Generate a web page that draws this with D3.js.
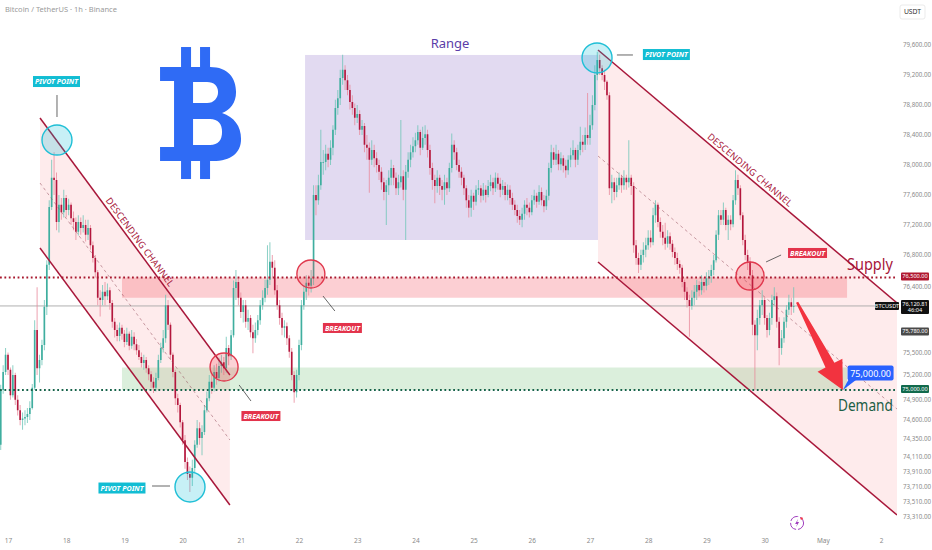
<!DOCTYPE html>
<html><head><meta charset="utf-8">
<script src="https://cdn.jsdelivr.net/npm/d3@7"></script>
<style>
html,body{margin:0;padding:0;background:#fff;}
svg{display:block;font-family:"Noto Sans",Roboto,sans-serif;}
</style></head><body>
<svg id="chart" width="932" height="550"></svg>
<script>
// ---------------- DATA (BTCUSDT, 1h, Binance) ----------------
const firstCandleTime = Date.UTC(2025, 3, 16, 21); // Apr 16 21:00
const firstOpen = 74270;
const closes = [
75000,75240,75470,75270,74930,75200,74870,74730,74600,74620,74640,74680,
74760,75030,75800,75290,75400,75600,76110,76670,77440,77830,77800,77240,
77470,77370,77560,77400,77470,77290,77240,77110,77240,77160,77200,77070,
77160,76930,76760,76570,76230,76200,76310,76250,76330,76160,75910,75800,
75720,75830,75750,75640,75750,75590,75710,75610,75530,75440,75360,75400,
75290,75210,75110,75030,75160,75400,75560,75690,76130,75870,75470,75240,
74890,74800,74570,74330,74040,73880,73830,73960,74270,74490,74360,74440,
74730,74890,75110,75030,75240,75160,75320,75370,75290,75560,75450,75730,
76360,76440,76230,76040,76130,75910,75960,75770,75690,75800,75930,76130,
76230,76360,76470,76710,76630,76330,76130,75960,75830,75850,75690,75510,
75200,74970,75200,75600,76130,76310,76430,76390,76490,77600,77530,77730,
78040,78040,78150,78070,78230,78470,78760,78890,79160,79270,79130,79000,
78840,78760,78630,78680,78470,78520,78270,78230,78070,78200,78090,78000,
77910,77770,77640,77730,77830,77960,77830,77690,77770,77850,77670,77910,
78070,78170,78250,78330,78440,78230,78360,78410,78200,77960,77800,77720,
77830,77720,77670,77770,77690,77960,78270,78170,78000,77910,77830,77690,
77530,77430,77590,77510,77670,77690,77590,77670,77600,77720,77770,77690,
77830,77750,77670,77720,77600,77670,77560,77470,77400,77320,77270,77350,
77470,77430,77370,77530,77590,77510,77640,77530,77450,77590,77960,78170,
78070,78150,78010,78090,77990,77930,78070,78130,78200,78070,78200,78310,
78270,78400,78360,78530,78800,79200,79400,79290,79200,79110,78930,77690,
77770,77640,77730,77830,77730,77830,77770,77830,77720,76930,76760,76670,
76800,76870,76930,77030,76970,77330,77470,77240,77110,77030,76950,77050,
76950,76840,76760,76680,76630,76440,76310,76200,76120,76230,76310,76400,
76330,76440,76390,76490,76520,76600,76730,77070,77330,77270,77400,77200,
77270,77210,77530,77800,77690,77330,77000,76800,76710,76530,75870,75730,
75960,76130,76200,75960,75800,75960,76200,76250,75910,75560,75690,75910,
76070,76170,76110,76120.81
];
const highs = [
75070,75330,75560,75500,75300,75330,75230,74930,74800,74700,74730,74760,
74850,75080,75930,76370,75470,75670,76200,76730,77530,78070,78170,77900,
77600,77560,77670,77600,77550,77500,77380,77300,77330,77300,77330,77270,
77270,77200,76980,76800,76600,76330,76400,76440,76420,76370,76200,75960,
75870,75900,75870,75800,75830,75780,75800,75770,75680,75600,75500,75470,
75440,75330,75250,75170,75230,75470,75630,75800,76270,76200,75900,75500,
75270,74950,74830,74600,74400,74100,73980,74070,74330,74600,74570,74530,
74800,74980,75200,75200,75330,75350,75430,75470,75440,75710,75600,75800,
76460,76600,76500,76300,76200,76200,76070,76000,75870,75900,76000,76200,
76330,76470,76930,76970,76800,76730,76400,76200,76030,75930,75900,75730,
75560,75250,75270,75670,76200,76400,76530,76530,76600,77730,77730,77870,
78470,78200,78270,78230,78330,78530,78870,79000,79270,79470,79330,79200,
79070,78930,78820,78800,78730,78600,78560,78400,78300,78330,78270,78170,
78070,77970,77830,77800,77930,78070,78000,77900,77870,78600,77930,78000,
78170,78270,78370,78430,78530,78470,78510,78530,78470,78270,78030,77870,
77930,77870,77800,77870,77830,78030,78420,78330,78230,78070,77970,77870,
77730,77600,77670,77630,77730,77800,77730,77760,77730,77800,77870,77830,
77900,77890,77830,77800,77770,77740,77730,77630,77530,77470,77400,77430,
77530,77560,77500,77600,77670,77630,77730,77700,77600,77670,78030,78270,
78230,78270,78200,78170,78130,78070,78130,78230,78330,78230,78270,78510,
78400,78500,78960,78670,78930,79330,79510,79470,79330,79270,79130,78970,
77870,77830,77830,77900,77870,77930,77870,78330,77870,77770,77000,76830,
76870,76970,77030,77130,77130,77430,77530,77500,77300,77200,77230,77130,
77100,77000,76900,76830,76730,76670,76470,76370,76270,76330,76400,76470,
76450,76530,76500,76570,76600,76670,76800,77130,77400,77400,77500,77430,
77330,77330,77600,77930,77870,77730,77370,77070,76870,76770,76600,75930,
76070,76200,76330,76230,76000,76030,76270,76370,76300,75970,75800,75970,
76130,76270,76230,76370
];
const lows = [
74200,74950,75200,75200,74870,74900,74800,74660,74530,74470,74530,74560,
74600,74740,75000,75200,75100,75330,75530,76000,76600,77400,77600,77130,
77100,77270,77300,77300,77330,77200,77130,77000,77060,77070,77100,76980,
77000,76870,76700,76500,76130,75980,76130,76130,76200,76070,75830,75700,
75650,75650,75670,75570,75600,75530,75550,75530,75470,75400,75300,75270,
75230,75130,75030,74960,74980,75130,75360,75500,75630,75800,75400,75170,
74800,74700,74500,74270,73950,73800,73640,73720,73900,74230,74270,74130,
74400,74700,74850,74950,74980,75070,75110,75230,75200,75230,75330,75400,
75700,76200,76130,75960,75900,75830,75800,75700,75490,75630,75730,75870,
76070,76170,76270,76400,76500,76270,76070,75870,75730,75700,75600,75430,
75130,74830,74900,75130,75530,76070,76200,76260,76300,76400,77330,77470,
77670,77870,77930,77970,78000,78130,78400,78670,78800,79070,79000,78930,
78740,78670,78530,78560,78400,78400,78170,78070,77630,78000,77970,77900,
77800,77670,77530,77200,77600,77730,77730,77600,77600,77700,77530,77000,
77830,77970,78100,78170,78270,78130,78200,78270,78100,77870,77670,77490,
77630,77600,77530,77470,77600,77640,77900,78070,77930,77830,77730,77600,
77430,77300,77310,77400,77460,77600,77500,77530,77500,77570,77650,77600,
77640,77670,77570,77600,77530,77530,77470,77400,77330,77230,77200,77170,
77270,77330,77300,77330,77470,77430,77470,77460,77370,77400,77530,77900,
78000,78000,77930,77930,77900,77830,77870,77970,78070,77970,78000,78130,
78170,78200,78270,78270,78470,78730,79130,79200,79130,79000,78870,77600,
77490,77530,77570,77670,77630,77670,77670,77700,77600,76830,76670,76560,
76600,76700,76770,76870,76900,76930,77230,77170,77030,76930,76870,76900,
76870,76770,76670,76600,76550,76370,76200,76100,75710,76070,76130,76200,
76250,76270,76300,76330,76400,76430,76530,76700,77000,77200,77200,77130,
77000,77130,77170,77470,77600,77270,76930,76730,76600,76470,75730,75000,
75530,75870,76000,75870,75700,75730,75870,76130,75830,75330,75470,75630,
75830,76000,76000,76030
];
const priceTicks = [79600,79200,78800,78400,78000,77600,77200,76800,76400,75500,75200,74900,74600,74350,74110,73910,73710,73510,73310];
const dayTicks = [17,18,19,20,21,22,23,24,25,26,27,28,29,30,31,32]; // April days; 31 = May 1, 32 = May 2
const supplyLevel = 76500;
const supplyZone = [76500, 76230];
const demandZone = [75300, 75000];
const demandLevel = 75000;
const lastPrice = 76120.81;
const prevClose = 75780;
const targetPrice = 75000;
// annotations: [aprilDay, hour, price]
const leftChannel = {t0:[17,13.2], t1:[20,19.5], upper:[78627,75200], lower:[76893,73467]};
const rightChannel = {t0:[27,3.3], t1:[32,6.6], upper:[79533,76160], lower:[76707,73333]};
const rangeBox = {t0:[22,2.5], t1:[27,3.3], top:79467, bottom:77000};
const zoneSpan = {t0:[18,23], t1:[31,10]};
const pivotCircles = [[17,20.2,78333],[20,3.05,73707],[27,2.9,79427]];
const breakoutCircles = [[20,17.1,75307],[22,4.9,76547],[29,18,76520]];
const pivotLabels = [
  {c:[17,20,79113], a:[17,20.2,78933], b:[17,20.2,78640]},
  {c:[18,23,73693], a:[19,11.4,73720], b:[19,18.8,73720]},
  {c:[28,7.5,79473], a:[27,11.1,79467], b:[27,17.7,79467]}
];
const breakoutLabels = [
  {c:[21,8.3,74653], a:[20,23.3,75067], b:[21,4.2,74853]},
  {c:[22,17.9,75827], a:[22,9.9,76253], b:[22,14.8,76053]},
  {c:[30,17.7,76827], a:[30,0.6,76707], b:[30,6.8,76800]}
];

// ---------------- SCALES ----------------
const W = 932, H = 550, plotRight = 897, plotBottom = 532;
const x = d3.scaleUtc().domain([Date.UTC(2025,3,17), Date.UTC(2025,4,2)]).range([8, 881]);
const y = d3.scaleLinear().domain([80200, 73000]).range([0, 540]);
const T = (day, hour) => new Date(Date.UTC(2025, 3, day) + hour * 3600e3);
const at = (d, h, p) => [x(T(d, h)), y(p)];

const svg = d3.select('#chart');
svg.append('rect').attr('width', W).attr('height', H).attr('fill', '#fff');
svg.append('clipPath').attr('id', 'plotClip').append('rect')
  .attr('x', 0).attr('y', 0).attr('width', plotRight).attr('height', plotBottom);
const plot = svg.append('g').attr('clip-path', 'url(#plotClip)');

// text squeezed horizontally to a target width (real transform, so its box is true)
function fitText(parent, tx, ty, str, width, attrs) {
  const g = parent.append('g').attr('transform', `translate(${tx},${ty})`);
  const t = g.append('text').text(str);
  Object.entries(attrs).forEach(([k, v]) => t.attr(k, v));
  const natural = t.node().getComputedTextLength();
  const k = natural > 0 ? Math.min(1, width / natural) : 1;
  t.attr('transform', `scale(${k},1)`);
  return t;
}

// ---------------- CHANNELS / BOXES ----------------
function channel(ch) {
  const [x0, x1] = [x(T(...ch.t0)), x(T(...ch.t1))];
  const u0 = y(ch.upper[0]), u1 = y(ch.upper[1]), l0 = y(ch.lower[0]), l1 = y(ch.lower[1]);
  plot.append('path').attr('d', `M${x0},${u0}L${x1},${u1}L${x1},${l1}L${x0},${l0}Z`)
    .attr('fill', 'rgba(242,54,69,0.10)');
  return {x0, x1, u0, u1, l0, l1};
}
const LC = channel(leftChannel), RC = channel(rightChannel);

const rb = {x0: x(T(...rangeBox.t0)), x1: x(T(...rangeBox.t1)), y0: y(rangeBox.top), y1: y(rangeBox.bottom)};
plot.append('rect').attr('x', rb.x0).attr('y', rb.y0).attr('width', rb.x1 - rb.x0).attr('height', rb.y1 - rb.y0)
  .attr('fill', 'rgba(103,58,183,0.19)');

const zx0 = x(T(...zoneSpan.t0)), zx1 = x(T(...zoneSpan.t1));
plot.append('rect').attr('x', zx0).attr('y', y(supplyZone[0])).attr('width', zx1 - zx0)
  .attr('height', y(supplyZone[1]) - y(supplyZone[0])).attr('fill', 'rgba(242,54,69,0.24)');
plot.append('rect').attr('x', zx0).attr('y', y(demandZone[0])).attr('width', zx1 - zx0)
  .attr('height', y(demandZone[1]) - y(demandZone[0])).attr('fill', 'rgba(76,175,80,0.20)');

// current price line
plot.append('line').attr('x1', 0).attr('x2', plotRight).attr('y1', y(lastPrice)).attr('y2', y(lastPrice))
  .attr('stroke', '#a8a8a8').attr('stroke-width', 0.9);

// ---------------- CANDLES ----------------
const candles = closes.map((c, i) => ({
  t: new Date(firstCandleTime + i * 3600e3),
  o: i ? closes[i - 1] : firstOpen, c, h: highs[i], l: lows[i]
}));
const bw = (x(new Date(firstCandleTime + 3600e3)) - x(new Date(firstCandleTime))) * 0.68;
const cg = plot.append('g');
cg.selectAll('line').data(candles).join('line')
  .attr('x1', d => x(d.t)).attr('x2', d => x(d.t))
  .attr('y1', d => y(Math.max(d.h, d.o, d.c))).attr('y2', d => y(Math.min(d.l, d.o, d.c)))
  .attr('stroke', d => d.c >= d.o ? '#6fc5b8' : '#e98a9c').attr('stroke-width', 0.8);
cg.selectAll('rect').data(candles).join('rect')
  .attr('x', d => x(d.t) - bw / 2).attr('width', bw)
  .attr('y', d => y(Math.max(d.o, d.c)))
  .attr('height', d => Math.max(0.8, Math.abs(y(d.o) - y(d.c))))
  .attr('fill', d => d.c >= d.o ? '#3fae9f' : '#b3173d');

// channel lines
function channelLines(c) {
  const red = '#a8173a';
  plot.append('line').attr('x1', c.x0).attr('y1', c.u0).attr('x2', c.x1).attr('y2', c.u1).attr('stroke', red).attr('stroke-width', 1.5);
  plot.append('line').attr('x1', c.x0).attr('y1', c.l0).attr('x2', c.x1).attr('y2', c.l1).attr('stroke', red).attr('stroke-width', 1.5);
  plot.append('line').attr('x1', c.x0).attr('y1', (c.u0 + c.l0) / 2).attr('x2', c.x1).attr('y2', (c.u1 + c.l1) / 2)
    .attr('stroke', 'rgba(150,80,95,0.6)').attr('stroke-width', 0.9).attr('stroke-dasharray', '3,3');
}
channelLines(LC); channelLines(RC);

// dotted key levels
plot.append('line').attr('x1', 0).attr('x2', plotRight).attr('y1', y(supplyLevel)).attr('y2', y(supplyLevel))
  .attr('stroke', '#a8192f').attr('stroke-width', 1.8).attr('stroke-dasharray', '1.8,2.6');
plot.append('line').attr('x1', 0).attr('x2', plotRight).attr('y1', y(demandLevel)).attr('y2', y(demandLevel))
  .attr('stroke', '#17634a').attr('stroke-width', 1.8).attr('stroke-dasharray', '1.8,2.6');

// circles
pivotCircles.forEach(p => {
  const [cx, cy] = at(...p);
  plot.append('circle').attr('cx', cx).attr('cy', cy).attr('r', 15)
    .attr('fill', 'rgba(0,188,212,0.22)').attr('stroke', '#1fbfd6').attr('stroke-width', 1.4);
});
breakoutCircles.forEach(p => {
  const [cx, cy] = at(...p);
  plot.append('circle').attr('cx', cx).attr('cy', cy).attr('r', 14)
    .attr('fill', 'rgba(242,54,69,0.22)').attr('stroke', '#e0384d').attr('stroke-width', 1.4);
});

// labels with leader lines
function tagLabel(L, text, fill, w, h) {
  const [a1, a2] = [at(...L.a), at(...L.b)];
  plot.append('line').attr('x1', a1[0]).attr('y1', a1[1]).attr('x2', a2[0]).attr('y2', a2[1])
    .attr('stroke', '#555').attr('stroke-width', 0.9);
  const [cx, cy] = at(...L.c);
  plot.append('rect').attr('x', cx - w / 2).attr('y', cy - h / 2).attr('width', w).attr('height', h).attr('fill', fill);
  fitText(plot, cx, cy, text, w - 4, {'dy': '0.36em', 'text-anchor': 'middle', 'fill': '#fff', 'font-size': 7.2,
    'font-weight': 'bold', 'font-style': 'italic'});
}
pivotLabels.forEach(L => tagLabel(L, 'PIVOT POINT', '#12bdd3', 47, 11));
breakoutLabels.forEach(L => tagLabel(L, 'BREAKOUT', '#e3334b', 39, 10));

// channel captions
function caption(c, pos) {
  const ang = Math.atan2(c.u1 - c.u0, c.x1 - c.x0) * 180 / Math.PI;
  const [cx, cy] = at(...pos);
  plot.append('text').attr('transform', `translate(${cx},${cy}) rotate(${ang})`)
    .attr('text-anchor', 'middle').attr('dy', '0.35em').attr('fill', '#a8173a')
    .attr('font-size', 9.3).attr('letter-spacing', 0.2).text('DESCENDING CHANNEL');
}
caption(LC, [19, 6.4, 76973]);
caption(RC, [29, 18, 77933]);

// Range label
{
  const [rx, ry] = at(24, 14.3, 79560);
  plot.append('text').attr('x', rx).attr('y', ry).attr('text-anchor', 'middle')
    .attr('fill', '#5b3da8').attr('font-size', 13).text('Range');
}

// arrow to target
{
  const [x0, y0] = at(30, 13.4, lastPrice + 50);
  const [x1, y1] = at(31, 8.3, targetPrice);
  const L = Math.hypot(x1 - x0, y1 - y0), ux = (x1 - x0) / L, uy = (y1 - y0) / L, nx = -uy, ny = ux;
  const bx = x1 - ux * 28, by = y1 - uy * 28;
  const pts = [[x0 + nx * 1.2, y0 + ny * 1.2], [bx + nx * 5, by + ny * 5], [bx + nx * 14, by + ny * 14], [x1, y1],
               [bx - nx * 14, by - ny * 14], [bx - nx * 5, by - ny * 5], [x0 - nx * 1.2, y0 - ny * 1.2]];
  plot.append('polygon').attr('points', pts.map(p => p.join(',')).join(' ')).attr('fill', '#f2333f');
}

// target callout
{
  const [cx, cy] = at(31, 19.7, 75220);
  const [tx, ty] = at(31, 8.3, targetPrice);
  plot.append('polygon').attr('points', `${cx - 22},${cy + 6} ${cx - 14},${cy + 6} ${tx},${ty}`).attr('fill', '#2962ff');
  plot.append('rect').attr('x', cx - 23).attr('y', cy - 8).attr('width', 46).attr('height', 15).attr('rx', 2).attr('fill', '#2962ff');
  plot.append('text').attr('x', cx).attr('y', cy).attr('dy', '0.35em').attr('text-anchor', 'middle')
    .attr('fill', '#fff').attr('font-size', 9).text('75,000.00');
}

// Supply / Demand
{
  const [sx, sy] = at(32, 4.9, 76600);
  fitText(plot, sx, sy, 'Supply', 46, {'text-anchor': 'end', 'fill': '#a8173a', 'font-size': 17});
  const [dx, dy] = at(32, 4.9, 74720);
  fitText(plot, dx, dy, 'Demand', 55, {'text-anchor': 'end', 'fill': '#1c5e45', 'font-size': 17});
}

// Bitcoin logo
{
  const [lx, ly] = at(19, 14.7, 79573);
  const g = svg.append('g').attr('transform', `translate(${lx},${ly})`).attr('fill', '#2f6bf5');
  [[21, 0, 10, 22], [40, 0, 10, 22], [21, 112, 10, 20], [40, 112, 10, 20]].forEach(r =>
    g.append('rect').attr('x', r[0]).attr('y', r[1]).attr('width', r[2]).attr('height', r[3]));
  g.append('path').attr('fill-rule', 'evenodd').attr('d',
    'M0,20 H50 C68,20 76,31 76,45 C76,56 70,63 62,66 C74,70 81,79 81,92 C81,106 71,114 53,114 H0 V100 H14 V34 H0 Z ' +
    'M33,35 H47 C54,35 58,39 58,45 C58,51 54,56 47,56 H33 Z ' +
    'M33,72 H50 C58,72 62,77 62,85 C62,93 58,98 50,98 H33 Z');
}

// lightning icon
{
  const [ix, iy] = at(30, 13.4, 73227);
  svg.append('circle').attr('cx', ix).attr('cy', iy).attr('r', 6.5).attr('fill', 'none')
    .attr('stroke', '#a13fbf').attr('stroke-width', 1).attr('stroke-dasharray', '9,2');
  svg.append('path').attr('d', `M${ix + 1},${iy - 4} L${ix - 2},${iy + 1} L${ix},${iy + 1} L${ix - 1},${iy + 4} L${ix + 2},${iy - 1} L${ix},${iy - 1} Z`)
    .attr('fill', '#a13fbf');
  svg.append('circle').attr('cx', ix + 4.5).attr('cy', iy - 4.5).attr('r', 1.2).attr('fill', '#f23645');
}

// ---------------- AXES ----------------
svg.append('text').attr('x', 5).attr('y', 12).attr('fill', '#9a9a9a').attr('font-size', 7.5)
  .text('Bitcoin / TetherUS · 1h · Binance');

const yAxis = svg.append('g').attr('transform', `translate(903,0)`)
  .call(d3.axisRight(y).tickValues(priceTicks).tickFormat(d3.format(',.2f')).tickSize(0).tickPadding(0));
yAxis.select('.domain').remove();
yAxis.selectAll('text').attr('fill', '#8a8a8a').attr('font-size', 6.2).attr('font-family', '"Noto Sans",Roboto,sans-serif')
  .attr('dy', d => (d === 74900 || d === 76400) ? '0.6em' : '0.32em');

const xAxis = svg.append('g').attr('transform', `translate(0,535)`)
  .call(d3.axisBottom(x).tickValues(dayTicks.map(d => T(d, 0)))
    .tickFormat(d => d.getUTCDate() === 1 ? 'May' : String(d.getUTCDate())).tickSize(0).tickPadding(3));
xAxis.select('.domain').remove();
xAxis.selectAll('text').attr('fill', '#8a8a8a').attr('font-size', 6.5).attr('font-family', '"Noto Sans",Roboto,sans-serif');

// USDT box
svg.append('rect').attr('x', 900).attr('y', 5).attr('width', 25).attr('height', 14).attr('rx', 2)
  .attr('fill', '#fff').attr('stroke', '#e6e6e6').attr('stroke-width', 0.8);
svg.append('text').attr('x', 912.5).attr('y', 12).attr('dy', '0.35em').attr('text-anchor', 'middle')
  .attr('fill', '#333').attr('font-size', 6.8).text('USDT');

// price tags
function priceTag(p, lines, fill, xLeft, w, shift) {
  const cy = y(p), h = lines.length > 1 ? 14 : 8;
  const top = (lines.length > 1 ? cy - 6 : cy - h / 2) - (shift || 0);
  svg.append('rect').attr('x', xLeft).attr('y', top).attr('width', w).attr('height', h).attr('rx', 1).attr('fill', fill);
  lines.forEach((t, i) => svg.append('text').attr('x', xLeft + w / 2).attr('y', top + 4 + i * 6.5).attr('dy', '0.35em')
    .attr('text-anchor', 'middle').attr('fill', '#fff').attr('font-size', 5.6).text(t));
}
priceTag(supplyLevel, [d3.format(',.2f')(supplyLevel)], '#b0182f', 901, 28, 1);
priceTag(lastPrice, ['BTCUSDT'], '#111', 875, 24);
priceTag(lastPrice, [d3.format(',.2f')(lastPrice), '46:04'], '#111', 901, 28);
priceTag(prevClose, [d3.format(',.2f')(prevClose)], '#4a4a4a', 901, 28);
priceTag(demandLevel, [d3.format(',.2f')(demandLevel)], '#116a4c', 901, 28, 1);
</script>
</body></html>
